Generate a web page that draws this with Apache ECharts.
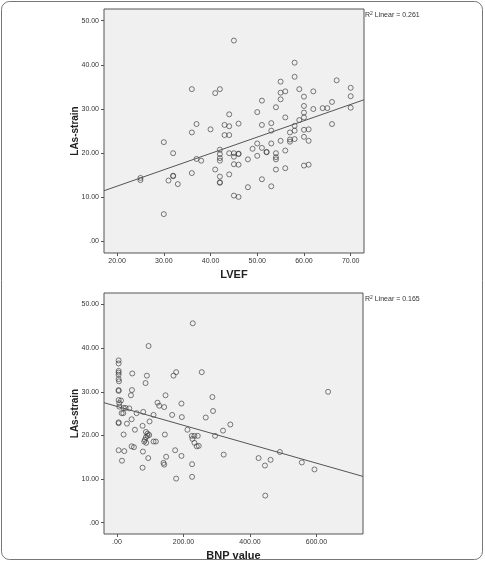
<!DOCTYPE html>
<html>
<head>
<meta charset="utf-8">
<script src="https://cdn.jsdelivr.net/npm/echarts@6/dist/echarts.min.js"></script>
<style>
  html, body { margin: 0; padding: 0; background: #fff; }
  #chart { width: 485px; height: 562px; }
</style>
</head>
<body>
<div id="chart"></div>
<script>
// === DATA ===
// top panel: LVEF vs LAs-strain
const lvefPoints = [
  [25,14.4],[25,13.9],[30,22.5],[30,6.2],[31,13.8],[32,20.0],[32,14.9],[32,14.8],[33,13.0],
  [36,34.5],[36,24.7],[36,15.5],[37,26.6],[37,18.7],[38,18.3],[40,25.4],[41,33.6],[41,16.3],
  [42,34.5],[42,20.8],[42,19.8],[42,18.9],[42,18.3],[42,14.7],[42,13.4],[42,13.3],
  [43,26.4],[43,24.1],[44,28.8],[44,26.1],[44,24.1],[44,20.0],[44,15.2],
  [45,45.5],[45,20.0],[45,19.2],[45,17.5],[45,10.4],[46,26.7],[46,19.9],[46,19.8],[46,17.4],[46,10.1],
  [48,18.6],[48,12.3],[49,21.0],[50,29.3],[50,22.2],[50,19.4],[51,31.9],[51,26.4],[51,21.2],[51,14.1],
  [52,20.3],[52,20.2],[53,26.8],[53,25.1],[53,22.2],[53,12.5],[54,30.4],[54,20.0],[54,19.1],[54,18.6],[54,16.3],
  [55,36.2],[55,33.7],[55,32.2],[55,22.8],[56,34.0],[56,28.1],[56,20.6],[56,16.6],
  [57,24.7],[57,23.1],[57,22.6],[58,40.5],[58,37.3],[58,26.2],[58,25.1],[58,23.2],[59,34.5],[59,27.5],
  [60,32.8],[60,30.7],[60,29.2],[60,28.1],[60,25.3],[60,23.7],[60,17.2],[61,25.4],[61,22.8],[61,17.4],
  [62,34.0],[62,30.0],[64,30.2],[65,30.2],[66,31.6],[66,26.6],[67,36.5],[70,34.8],[70,32.9],[70,30.3]
];
const lvefFitX = [17.2, 72.85];
const lvefFitY = [11.5, 32.1];
const lvefR2 = '0.261';

// bottom panel: BNP value vs LAs-strain
const bnpPoints = [
  [5,37.2],[5,36.5],[5,34.8],[5,34.4],[5,33.9],[5,32.9],[6,32.4],[5,30.4],[5,30.2],[5,28.1],[12,28.0],
  [7,27.4],[7,26.6],[20,26.3],[26,26.3],[37,26.2],[14,25.1],[19,25.1],[5,23.0],[5,22.8],[5,16.6],
  [22,16.4],[15,14.2],[20,20.2],[30,22.7],[44,23.7],[46,34.2],[45,30.4],[42,29.2],[59,25.1],[79,25.4],
  [54,21.3],[44,17.5],[51,17.3],[95,40.5],[90,33.7],[86,32.0],[98,23.2],[77,22.2],[87,20.8],[92,20.4],
  [97,20.1],[92,19.9],[87,19.6],[84,19.0],[82,18.6],[88,18.3],[110,18.6],[117,18.6],[78,16.3],[94,14.8],
  [77,12.6],[110,24.7],[122,27.5],[127,26.8],[142,26.5],[146,29.2],[144,20.2],[148,15.1],[140,13.7],
  [142,13.3],[166,24.7],[170,33.7],[178,34.5],[175,16.6],[178,10.1],[194,27.3],[195,24.2],[194,15.3],
  [212,21.3],[225,19.9],[233,19.9],[243,19.9],[227,19.2],[233,18.3],[240,17.5],[246,17.6],[226,13.4],
  [226,10.5],[228,45.7],[255,34.5],[267,24.1],[287,28.8],[289,25.6],[295,19.9],[319,21.1],[321,15.6],
  [341,22.5],[426,14.8],[445,13.1],[446,6.2],[462,14.4],[490,16.2],[556,13.8],[594,12.2],[635,30.0]
];
const bnpFitX = [-39, 740];
const bnpFitY = [27.5, 10.6];
const bnpR2 = '0.165';

const strainTicks = [0, 10, 20, 30, 40, 50];
const lvefTicks = [20, 30, 40, 50, 60, 70];
const bnpTicks = [0, 200, 400, 600];

// === STYLE ===
const FONT = '"Liberation Sans", Arial, sans-serif';
const INK = '#333';

// SPSS style: 0 -> ".00"
function fmt(v) {
  const s = v.toFixed(2);
  return s.startsWith('0.') ? s.slice(1) : s;
}

function xAxis(idx, min, max, ticks, name) {
  return {
    type: 'value', gridIndex: idx, min: min, max: max,
    name: name, nameLocation: 'middle', nameGap: 16,
    nameTextStyle: { fontFamily: FONT, fontWeight: 'bold', fontSize: 11, color: '#222' },
    axisLine: { show: false, onZero: false },
    splitLine: { show: false },
    axisTick: { show: true, inside: false, length: 3, customValues: ticks, lineStyle: { color: '#555' } },
    axisLabel: { customValues: ticks, formatter: fmt, fontFamily: FONT, fontSize: 7, color: INK, margin: 5 }
  };
}

function yAxis(idx) {
  return {
    type: 'value', gridIndex: idx, min: -2.6, max: 52.65,
    name: 'LAs-strain', nameLocation: 'middle', nameGap: 24, nameRotate: 90,
    nameMoveOverlap: false,
    nameTextStyle: { fontFamily: FONT, fontWeight: 'bold', fontSize: 10, color: '#222' },
    axisLine: { show: false, onZero: false },
    splitLine: { show: false },
    axisTick: { show: true, inside: false, length: 3, customValues: strainTicks, lineStyle: { color: '#555' } },
    axisLabel: { customValues: strainTicks, formatter: fmt, fontFamily: FONT, fontSize: 7, color: INK, margin: 5 }
  };
}

function scatter(idx, data) {
  return {
    type: 'scatter', xAxisIndex: idx, yAxisIndex: idx, data: data,
    symbol: 'circle', symbolSize: 5,
    itemStyle: { color: 'rgba(0,0,0,0)', borderColor: '#333', borderWidth: 0.8 },
    silent: true
  };
}

function fitLine(idx, xs, ys) {
  return {
    type: 'line', xAxisIndex: idx, yAxisIndex: idx,
    data: xs.map((x, i) => [x, ys[i]]),
    showSymbol: false, clip: true, silent: true,
    lineStyle: { color: '#555', width: 1 }
  };
}

function r2Text(top, value) {
  return {
    type: 'text', left: 365, top: top,
    style: {
      text: '{a|R}{s|2}{a| Linear = ' + value + '}',
      rich: {
        a: { fontFamily: FONT, fontSize: 7, fill: INK },
        s: { fontFamily: FONT, fontSize: 5, fill: INK, verticalAlign: 'top', padding: [0, 0, 3, 0] }
      }
    }
  };
}

// === RENDER ===
const chart = echarts.init(document.getElementById('chart'), null, { renderer: 'canvas' });
chart.setOption({
  animation: false,
  grid: [
    { left: 104, top: 9, width: 260, height: 244, show: true, backgroundColor: '#f0f0f0', borderColor: '#555', borderWidth: 1 },
    { left: 104, top: 293, width: 259, height: 243, show: true, backgroundColor: '#f0f0f0', borderColor: '#555', borderWidth: 1 }
  ],
  xAxis: [
    xAxis(0, 17.2, 72.85, lvefTicks, 'LVEF'),
    xAxis(1, -39, 740, bnpTicks, 'BNP value')
  ],
  yAxis: [yAxis(0), yAxis(1)],
  series: [
    fitLine(0, lvefFitX, lvefFitY),
    scatter(0, lvefPoints),
    fitLine(1, bnpFitX, bnpFitY),
    scatter(1, bnpPoints)
  ],
  graphic: [
    {
      type: 'rect', silent: true,
      shape: { x: 1.5, y: 1.5, width: 481, height: 558, r: 8 },
      style: { fill: 'none', stroke: '#777', lineWidth: 1 }
    },
    r2Text(11, lvefR2),
    r2Text(295, bnpR2)
  ]
});
</script>
</body>
</html>
